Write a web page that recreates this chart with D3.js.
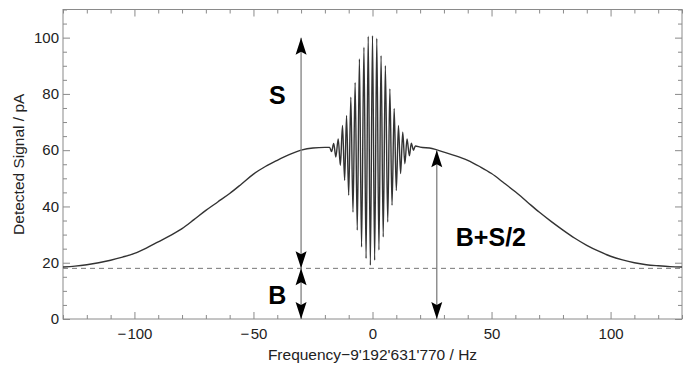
<!DOCTYPE html>
<html>
<head>
<meta charset="utf-8">
<script src="https://cdn.jsdelivr.net/npm/d3@7"></script>
<style>
  body { margin: 0; background: #fff; }
  text { font-family: "Liberation Sans", Arial, Helvetica, sans-serif; }
</style>
</head>
<body>
<div id="chart"></div>
<script>
// detuning in Hz (relative to 9'192'631'770 Hz) and detected signal in pA
const frequency = [
  -130, -125, -120, -115, -110, -105, -100, -95, -90, -85, -80, -75, -70, -65, -60, -55,
  -50, -45, -40, -35, -30, -25, -20,
  -18.0, -17.2, -16.3, -15.4, -14.4, -13.5, -12.6, -11.7, -10.9, -10.0, -9.1, -8.2,
  -7.3, -6.4, -5.5, -4.6, -3.6, -2.7, -1.8, -0.9, 0, 0.9, 1.8, 2.7, 3.6, 4.5, 5.4, 6.4,
  7.3, 8.2, 9.1, 10.0, 10.9, 11.8, 12.7, 13.6, 14.5, 15.5, 16.3, 17.2, 18.0,
  20, 25, 30, 35, 40, 45, 50, 55, 60, 65, 70, 75, 80, 85, 90, 95, 100, 105, 110,
  115, 120, 125, 130
];
const signal = [
  18.5, 18.8, 19.3, 20.0, 20.9, 22.0, 23.3, 25.2, 27.4, 29.6, 32.1, 35.3, 38.6, 41.6, 44.6, 48.0,
  51.5, 54.2, 56.4, 58.4, 60.0, 60.8, 61.0,
  61.0, 59.5, 62.4, 57.6, 64.0, 54.6, 68.8, 49.3, 72.3, 44.0, 78.8, 38.0,
  84.0, 31.6, 92.4, 25.6, 96.6, 21.5, 100.5, 19.1, 100.7, 20.9, 99.8, 24.5, 93.6, 29.2, 90.0, 34.5,
  81.8, 40.4, 74.8, 45.7, 68.8, 51.7, 66.4, 55.2, 64.0, 58.0, 62.5, 60.0, 61.5,
  61.1, 60.6, 59.3, 58.0, 56.4, 54.2, 51.7, 48.5, 45.2, 41.6, 38.0, 34.7, 31.6, 28.7, 26.2, 24.1, 22.3, 21.0, 20.0,
  19.3, 18.9, 18.6, 18.5
];

const background = 18;          // B level (dashed line)
const xTicks = [-100, -50, 0, 50, 100];
const yTicks = [0, 20, 40, 60, 80, 100];

// arrows: x position, from, to (both ends get heads)
const arrows = [
  { x: -30, from: background, to: 100 },
  { x: -30, from: 0, to: background },
  { x: 27, from: 0, to: 60 }
];
const labels = [
  { text: "S", x: -40, y: 76.5, anchor: "middle" },
  { text: "B", x: -40, y: 5.5, anchor: "middle" },
  { text: "B+S/2", x: 35, y: 26, anchor: "start" }
];

const width = 685, height = 366;
const margin = { top: 9.5, right: 3, bottom: 47, left: 63 };
const w = width - margin.left - margin.right;
const h = height - margin.top - margin.bottom;

const svg = d3.select("#chart").append("svg")
  .attr("width", width)
  .attr("height", height);

const g = svg.append("g")
  .attr("transform", "translate(" + margin.left + "," + margin.top + ")");

const x = d3.scaleLinear().domain([-130, 130]).range([0, w]);
const y = d3.scaleLinear().domain([0, 110]).range([h, 0]);

const frameColor = "#8a8a8a";
const textColor = "#222";

// frame axes, ticks inward on all four sides
function styleAxis(sel) {
  sel.select(".domain").remove();
  sel.selectAll(".tick line").attr("stroke", frameColor);
  sel.selectAll(".tick text").attr("fill", textColor).style("font-size", "15px");
}
const xMinor = d3.range(-130, 131, 10).filter(v => v % 50 !== 0);
const yMinor = d3.range(0, 111, 5).filter(v => v % 20 !== 0);

const fmtX = d => d < 0 ? "\u2212\u200A" + Math.abs(d) : String(d);

g.append("g").attr("transform", "translate(0," + h + ")")
  .call(d3.axisBottom(x).tickValues(xTicks).tickSize(-7).tickPadding(9).tickFormat(fmtX))
  .call(styleAxis);
g.append("g").attr("transform", "translate(0," + h + ")")
  .call(d3.axisBottom(x).tickValues(xMinor).tickSize(-4).tickFormat(""))
  .call(styleAxis);
g.append("g")
  .call(d3.axisTop(x).tickValues(xTicks).tickSize(-7).tickFormat(""))
  .call(styleAxis);
g.append("g")
  .call(d3.axisTop(x).tickValues(xMinor).tickSize(-4).tickFormat(""))
  .call(styleAxis);
g.append("g")
  .call(d3.axisLeft(y).tickValues(yTicks).tickSize(-7).tickPadding(4))
  .call(styleAxis);
g.append("g")
  .call(d3.axisLeft(y).tickValues(yMinor).tickSize(-4).tickFormat(""))
  .call(styleAxis);
g.append("g").attr("transform", "translate(" + w + ",0)")
  .call(d3.axisRight(y).tickValues(yTicks).tickSize(-7).tickFormat(""))
  .call(styleAxis);
g.append("g").attr("transform", "translate(" + w + ",0)")
  .call(d3.axisRight(y).tickValues(yMinor).tickSize(-4).tickFormat(""))
  .call(styleAxis);

g.append("rect")
  .attr("width", w).attr("height", h)
  .attr("fill", "none").attr("stroke", frameColor).attr("stroke-width", 1);

// background level
g.append("line")
  .attr("x1", x(-130)).attr("x2", x(130))
  .attr("y1", y(background)).attr("y2", y(background))
  .attr("stroke", "#777").attr("stroke-dasharray", "5,4").attr("stroke-width", 1);

// measured signal
const pts = frequency.map((f, i) => [f, signal[i]]);
const line = d3.line()
  .x(d => x(d[0]))
  .y(d => y(d[1]))
  .curve(d3.curveMonotoneX);

g.append("path")
  .datum(pts)
  .attr("d", line)
  .attr("fill", "none")
  .attr("stroke", "#333")
  .attr("stroke-width", 1.4);

// arrowheads
svg.append("defs").append("marker")
  .attr("id", "head")
  .attr("markerUnits", "userSpaceOnUse")
  .attr("viewBox", "-18 -6 19 12")
  .attr("refX", 0).attr("refY", 0)
  .attr("markerWidth", 19).attr("markerHeight", 12)
  .attr("orient", "auto-start-reverse")
  .append("path")
  .attr("d", "M0,0 L-17,-5.5 L-14,0 L-17,5.5 Z")
  .attr("fill", "#000");

g.selectAll(".arrow")
  .data(arrows)
  .enter()
  .append("line")
  .attr("class", "arrow")
  .attr("x1", d => x(d.x)).attr("x2", d => x(d.x))
  .attr("y1", d => y(d.from)).attr("y2", d => y(d.to))
  .attr("stroke", "#808080")
  .attr("stroke-width", 1.3)
  .attr("marker-start", "url(#head)")
  .attr("marker-end", "url(#head)");

g.selectAll(".label")
  .data(labels)
  .enter()
  .append("text")
  .attr("x", d => x(d.x))
  .attr("y", d => y(d.y))
  .attr("text-anchor", d => d.anchor)
  .style("font-size", "25px")
  .style("font-weight", "bold")
  .attr("fill", "#000")
  .text(d => d.text);

// axis titles
svg.append("text")
  .attr("x", margin.left + x(0))
  .attr("y", 360)
  .attr("text-anchor", "middle")
  .style("font-size", "15.5px")
  .attr("fill", textColor)
  .text("Frequency\u22129'192'631'770 / Hz");

svg.append("text")
  .attr("transform", "translate(24," + (margin.top + h / 2) + ")rotate(-90)")
  .attr("text-anchor", "middle")
  .style("font-size", "15.5px")
  .attr("fill", textColor)
  .text("Detected Signal / pA");
</script>
</body>
</html>
